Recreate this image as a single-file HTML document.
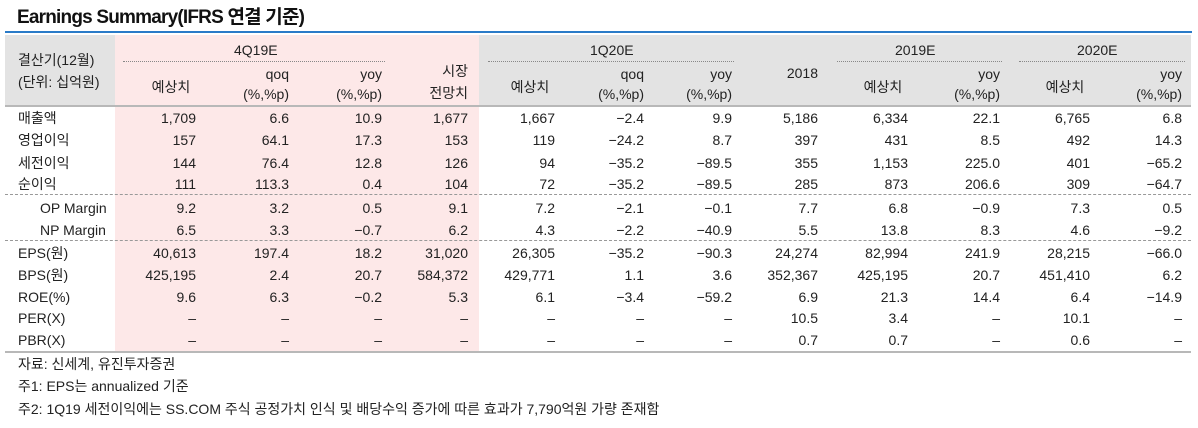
<!DOCTYPE html>
<html><head><meta charset="utf-8">
<style>
body{margin:0;background:#fff;}
#w{position:relative;width:1198px;height:428px;overflow:hidden;font-family:"Liberation Sans","Noto Sans CJK KR",sans-serif;font-size:14px;color:#222;}
.a{position:absolute;white-space:nowrap;line-height:16px;}
.r{position:absolute;left:0;width:1198px;height:16px;}
.r div{position:absolute;top:0;white-space:nowrap;line-height:16px;text-align:right;width:100px;}
.l{left:18px!important;text-align:left!important;width:auto!important;}
.c1{left:96px}.c2{left:189px}.c3{left:282px}.c4{left:368px}.c5{left:455px}.c6{left:544px}
.c7{left:632px}.c8{left:718px}.c9{left:808px}.c10{left:900px}.c11{left:990px}.c12{left:1082px}
.dot{position:absolute;height:0;border-top:1px dotted #888;}
.dash{position:absolute;left:5px;width:1186px;height:0;border-top:1.5px dashed #999;}
.h{position:absolute;text-align:center;line-height:19px;white-space:nowrap;}
</style></head><body><div id="w">
<div class="a" style="left:17px;top:7px;font-size:19px;font-weight:bold;letter-spacing:-0.8px;line-height:22px;color:#111;">Earnings Summary(IFRS 연결 기준)</div>
<div style="position:absolute;left:5px;top:31px;width:1187px;height:2px;background:#2a7bc8;"></div>
<div style="position:absolute;left:5px;top:35px;width:1186px;height:70px;background:#e3e3e3;"></div>
<div style="position:absolute;left:115px;top:35px;width:364px;height:317px;background:#fde8e8;"></div>
<div style="position:absolute;left:5px;top:105px;width:1186px;height:2px;background:#b8b8b8;"></div>
<div style="position:absolute;left:5px;top:351px;width:1186px;height:2px;background:#b8b8b8;"></div>
<div class="dash" style="top:194px"></div>
<div class="dash" style="top:240px"></div>
<div class="dot" style="left:123px;width:262px;top:61px"></div>
<div class="dot" style="left:488px;width:246px;top:61px"></div>
<div class="dot" style="left:837px;width:165px;top:61px"></div>
<div class="dot" style="left:1019px;width:166px;top:61px"></div>
<!-- header -->
<div class="a" style="left:18px;top:52px">결산기(12월)</div>
<div class="a" style="left:18px;top:74px">(단위: 십억원)</div>
<div class="a" style="left:234px;top:42px">4Q19E</div>
<div class="a" style="left:590px;top:42px">1Q20E</div>
<div class="a" style="left:895px;top:42px">2019E</div>
<div class="a" style="left:1077px;top:42px">2020E</div>
<div class="h" style="left:146px;width:50px;top:78px">예상치</div>
<div class="h" style="left:219px;width:70px;top:64px;text-align:right;line-height:20px">qoq<br>(%,%p)</div>
<div class="h" style="left:312px;width:70px;top:64px;text-align:right;line-height:20px">yoy<br>(%,%p)</div>
<div class="h" style="left:408px;width:60px;top:60px;text-align:right;line-height:22px">시장<br>전망치</div>
<div class="h" style="left:505px;width:50px;top:78px">예상치</div>
<div class="h" style="left:574px;width:70px;top:64px;text-align:right;line-height:20px">qoq<br>(%,%p)</div>
<div class="h" style="left:662px;width:70px;top:64px;text-align:right;line-height:20px">yoy<br>(%,%p)</div>
<div class="h" style="left:778px;width:40px;top:64px;text-align:right">2018</div>
<div class="h" style="left:858px;width:50px;top:78px">예상치</div>
<div class="h" style="left:930px;width:70px;top:64px;text-align:right;line-height:20px">yoy<br>(%,%p)</div>
<div class="h" style="left:1040px;width:50px;top:78px">예상치</div>
<div class="h" style="left:1112px;width:70px;top:64px;text-align:right;line-height:20px">yoy<br>(%,%p)</div>
<!-- rows -->
<div class="r" style="top:110px"><div class="l">매출액</div><div class="c1">1,709</div><div class="c2">6.6</div><div class="c3">10.9</div><div class="c4">1,677</div><div class="c5">1,667</div><div class="c6">−2.4</div><div class="c7">9.9</div><div class="c8">5,186</div><div class="c9">6,334</div><div class="c10">22.1</div><div class="c11">6,765</div><div class="c12">6.8</div></div>
<div class="r" style="top:132px"><div class="l">영업이익</div><div class="c1">157</div><div class="c2">64.1</div><div class="c3">17.3</div><div class="c4">153</div><div class="c5">119</div><div class="c6">−24.2</div><div class="c7">8.7</div><div class="c8">397</div><div class="c9">431</div><div class="c10">8.5</div><div class="c11">492</div><div class="c12">14.3</div></div>
<div class="r" style="top:155px"><div class="l">세전이익</div><div class="c1">144</div><div class="c2">76.4</div><div class="c3">12.8</div><div class="c4">126</div><div class="c5">94</div><div class="c6">−35.2</div><div class="c7">−89.5</div><div class="c8">355</div><div class="c9">1,153</div><div class="c10">225.0</div><div class="c11">401</div><div class="c12">−65.2</div></div>
<div class="r" style="top:176px"><div class="l">순이익</div><div class="c1">111</div><div class="c2">113.3</div><div class="c3">0.4</div><div class="c4">104</div><div class="c5">72</div><div class="c6">−35.2</div><div class="c7">−89.5</div><div class="c8">285</div><div class="c9">873</div><div class="c10">206.6</div><div class="c11">309</div><div class="c12">−64.7</div></div>
<div class="r" style="top:200px"><div class="l" style="left:40px!important">OP Margin</div><div class="c1">9.2</div><div class="c2">3.2</div><div class="c3">0.5</div><div class="c4">9.1</div><div class="c5">7.2</div><div class="c6">−2.1</div><div class="c7">−0.1</div><div class="c8">7.7</div><div class="c9">6.8</div><div class="c10">−0.9</div><div class="c11">7.3</div><div class="c12">0.5</div></div>
<div class="r" style="top:222px"><div class="l" style="left:40px!important">NP Margin</div><div class="c1">6.5</div><div class="c2">3.3</div><div class="c3">−0.7</div><div class="c4">6.2</div><div class="c5">4.3</div><div class="c6">−2.2</div><div class="c7">−40.9</div><div class="c8">5.5</div><div class="c9">13.8</div><div class="c10">8.3</div><div class="c11">4.6</div><div class="c12">−9.2</div></div>
<div class="r" style="top:245px"><div class="l">EPS(원)</div><div class="c1">40,613</div><div class="c2">197.4</div><div class="c3">18.2</div><div class="c4">31,020</div><div class="c5">26,305</div><div class="c6">−35.2</div><div class="c7">−90.3</div><div class="c8">24,274</div><div class="c9">82,994</div><div class="c10">241.9</div><div class="c11">28,215</div><div class="c12">−66.0</div></div>
<div class="r" style="top:267px"><div class="l">BPS(원)</div><div class="c1">425,195</div><div class="c2">2.4</div><div class="c3">20.7</div><div class="c4">584,372</div><div class="c5">429,771</div><div class="c6">1.1</div><div class="c7">3.6</div><div class="c8">352,367</div><div class="c9">425,195</div><div class="c10">20.7</div><div class="c11">451,410</div><div class="c12">6.2</div></div>
<div class="r" style="top:289px"><div class="l">ROE(%)</div><div class="c1">9.6</div><div class="c2">6.3</div><div class="c3">−0.2</div><div class="c4">5.3</div><div class="c5">6.1</div><div class="c6">−3.4</div><div class="c7">−59.2</div><div class="c8">6.9</div><div class="c9">21.3</div><div class="c10">14.4</div><div class="c11">6.4</div><div class="c12">−14.9</div></div>
<div class="r" style="top:310px"><div class="l">PER(X)</div><div class="c1">–</div><div class="c2">–</div><div class="c3">–</div><div class="c4">–</div><div class="c5">–</div><div class="c6">–</div><div class="c7">–</div><div class="c8">10.5</div><div class="c9">3.4</div><div class="c10">–</div><div class="c11">10.1</div><div class="c12">–</div></div>
<div class="r" style="top:332px"><div class="l">PBR(X)</div><div class="c1">–</div><div class="c2">–</div><div class="c3">–</div><div class="c4">–</div><div class="c5">–</div><div class="c6">–</div><div class="c7">–</div><div class="c8">0.7</div><div class="c9">0.7</div><div class="c10">–</div><div class="c11">0.6</div><div class="c12">–</div></div>
<!-- footnotes -->
<div class="a" style="left:18px;top:356px">자료: 신세계, 유진투자증권</div>
<div class="a" style="left:18px;top:378px">주1: EPS는 annualized 기준</div>
<div class="a" style="left:18px;top:401px">주2: 1Q19 세전이익에는 SS.COM 주식 공정가치 인식 및 배당수익 증가에 따른 효과가 7,790억원 가량 존재함</div>
</div></body></html>
